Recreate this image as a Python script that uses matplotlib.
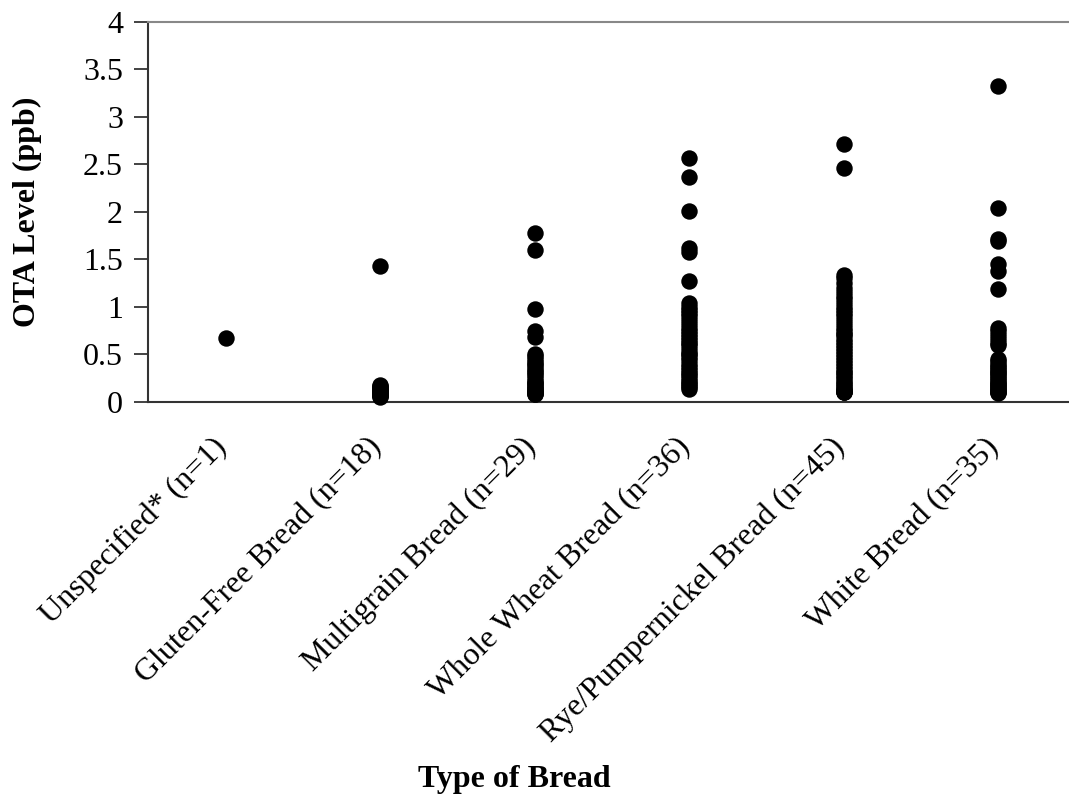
import numpy as np
import matplotlib.pyplot as plt
import matplotlib.transforms as mtransforms

# OTA levels (ppb) per bread type
categories = ["Unspecified* (n=1)", "Gluten-Free Bread (n=18)", "Multigrain Bread (n=29)",
              "Whole Wheat Bread (n=36)", "Rye/Pumpernickel Bread (n=45)", "White Bread (n=35)"]

unspecified = [0.67]
gluten_free = [1.43, 0.18, 0.17, 0.16, 0.15, 0.14, 0.13, 0.12, 0.11, 0.10, 0.10,
               0.09, 0.08, 0.08, 0.07, 0.07, 0.06, 0.05]
multigrain = [1.78, 1.60, 0.98, 0.75, 0.68, 0.50, 0.48, 0.45, 0.42, 0.40, 0.38, 0.35,
              0.33, 0.30, 0.28, 0.25, 0.22, 0.20, 0.20, 0.18, 0.16, 0.15, 0.14, 0.12,
              0.11, 0.10, 0.09, 0.08, 0.08]
whole_wheat = [2.57, 2.37, 2.01, 1.62, 1.58, 1.27, 1.04, 1.00, 0.97, 0.94, 0.90, 0.86,
               0.82, 0.78, 0.75, 0.72, 0.68, 0.65, 0.62, 0.60, 0.56, 0.52, 0.50, 0.47,
               0.44, 0.40, 0.37, 0.34, 0.30, 0.28, 0.25, 0.22, 0.20, 0.18, 0.16, 0.14]
rye = [2.72, 2.46, 1.34, 1.30, 1.25, 1.20, 1.16, 1.12, 1.08, 1.04, 1.00, 0.97, 0.94,
       0.90, 0.86, 0.82, 0.78, 0.75, 0.72, 0.70, 0.66, 0.63, 0.60, 0.57, 0.54, 0.50,
       0.47, 0.44, 0.41, 0.38, 0.35, 0.32, 0.30, 0.27, 0.25, 0.22, 0.20, 0.18, 0.16,
       0.14, 0.13, 0.12, 0.11, 0.10, 0.10]
white = [3.33, 2.04, 1.72, 1.69, 1.45, 1.38, 1.19, 0.78, 0.75, 0.70, 0.66, 0.62, 0.60,
         0.45, 0.43, 0.40, 0.38, 0.36, 0.34, 0.32, 0.30, 0.28, 0.26, 0.24, 0.22, 0.20,
         0.19, 0.18, 0.16, 0.15, 0.14, 0.12, 0.11, 0.10, 0.09]

groups = [unspecified, gluten_free, multigrain, whole_wheat, rye, white]

plt.rcParams['font.family'] = ['Liberation Serif', 'DejaVu Serif']
FS = 23

fig = plt.figure(figsize=(10.69, 7.99), dpi=100)
ax = fig.add_axes([0.1384, 0.4969, 0.8616, 0.4756])

for i, vals in enumerate(groups):
    ax.scatter(np.full(len(vals), i + 1), vals, s=140, color='black', zorder=3,
               clip_on=False, linewidths=0)

ax.set_xlim(0.495, 6.46)
ax.set_ylim(0, 4)
ax.set_yticks(np.arange(0, 4.01, 0.5))
ax.set_yticklabels(['0', '0.5', '1', '1.5', '2', '2.5', '3', '3.5', '4'])
ax.set_xticks(range(1, 7))
ax.set_xticklabels(categories, rotation=45, ha='right', va='top', rotation_mode='anchor')

ax.tick_params(axis='y', direction='out', length=10, width=1.2, labelsize=FS, pad=8,
               colors='#222222')
ax.tick_params(axis='x', length=0, labelsize=FS, pad=22)
for lbl in ax.get_yticklabels():
    lbl.set_color('black')

# nudge the slanted category labels a bit to the left
shift = mtransforms.ScaledTranslation(-14 / 100, 0, fig.dpi_scale_trans)
for lbl in ax.get_xticklabels():
    lbl.set_transform(lbl.get_transform() + shift)

ax.spines['right'].set_visible(False)
ax.spines['top'].set_color('#888888')
ax.spines['top'].set_linewidth(1.5)
for side in ['left', 'bottom']:
    ax.spines[side].set_color('#333333')
    ax.spines[side].set_linewidth(1.5)

fig.text(0.026, 0.735, 'OTA Level (ppb)', rotation=90, fontsize=FS, fontweight='bold',
         ha='center', va='center')
fig.text(0.481, 0.025, 'Type of Bread', fontsize=FS, fontweight='bold',
         ha='center', va='center')

fig.savefig('out.png', dpi=100)
